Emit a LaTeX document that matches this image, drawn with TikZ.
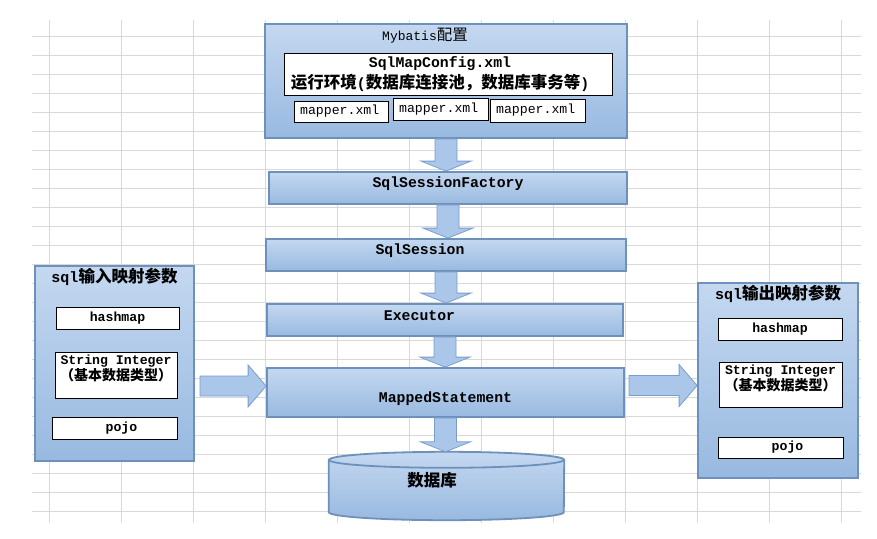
\documentclass[tikz,border=0pt]{standalone}
\usepackage{fontspec}
\setmainfont{Liberation Mono}
\newfontfamily\cjk{Noto Sans CJK SC}
\usepackage{tikz}
\usetikzlibrary{positioning, calc}

\definecolor{boxtop}{RGB}{196,216,240}
\definecolor{boxbot}{RGB}{152,185,224}
\definecolor{boxedge}{RGB}{110,145,188}
\definecolor{arrfill}{RGB}{170,198,232}
\definecolor{arredge}{RGB}{122,158,204}
\definecolor{gridgray}{RGB}{217,217,217}

\newcommand{\zh}[2]{{\cjk\fontsize{#1}{#1}\selectfont #2}}
% fat arrow pointing down, from #1 to #2
\newcommand{\vblock}[2]{%
  \path[arw] let \p1=(#1), \p2=(#2) in
    (\x1-11pt,\y1) -- (\x1+11pt,\y1) -- (\x1+11pt,\y2+10pt) -- (\x1+25pt,\y2+10pt)
    -- (\x1,\y2) -- (\x1-25pt,\y2+10pt) -- (\x1-11pt,\y2+10pt) -- cycle;}
% fat arrow pointing right, from #1 to #2
\newcommand{\hblock}[2]{%
  \path[arw] let \p1=(#1), \p2=(#2) in
    (\x1,\y1+10pt) -- (\x2-18pt,\y1+10pt) -- (\x2-18pt,\y1+21pt) -- (\x2,\y1)
    -- (\x2-18pt,\y1-21pt) -- (\x2-18pt,\y1-10pt) -- (\x1,\y1-10pt) -- cycle;}

\begin{document}
\begin{tikzpicture}[x=1pt, y=-1pt,
    gridline/.style={draw=gridgray, line width=0.9pt},
    blk/.style={draw=boxedge, line width=1.8pt, top color=boxtop,
        bottom color=boxbot, inner sep=0pt},
    wbox/.style={draw=black, line width=0.9pt, fill=white, inner sep=0pt},
    arw/.style={draw=arredge, line width=0.8pt, fill=arrfill},
    lblbig/.style={font=\fontsize{14.8}{21}\selectfont\bfseries},
    lblsmall/.style={font=\fontsize{13.2}{16}\selectfont\bfseries},
  ]
  \useasboundingbox (0,0) rectangle (877,538);
  \fill[white] (0,0) rectangle (877,538);

  % spreadsheet grid
  \foreach \gx in {0,...,11}
    \draw[gridline] ({49+72*\gx},20) -- ({49+72*\gx},523);
  \foreach \gy in {0,...,25}
    \draw[gridline] (32,{36+19*\gy}) -- (861,{36+19*\gy});

  % Mybatis config
  \node[blk, minimum width=362, minimum height=114,
    label={[font=\fontsize{13}{14}\selectfont, anchor=center, xshift=-21pt, yshift=-13pt]north:Mybatis\zh{15.5}{配置}}]
    (cfg) at (446,81) {};
  \node[wbox, minimum width=328, minimum height=42,
    label={[lblbig, align=center, xshift=-8pt]center:SqlMapConfig.xml\\\zh{16.5}{运行环境}(\zh{16.5}{数据库连接池，数据库事务等})}]
    (smc) at (448,74) {};
  \foreach \i/\cx/\cy/\w/\h in {1/341/111.5/94/21, 2/440.5/109/95/22, 3/537.5/110.5/95/23}
    \node[wbox, minimum width=\w, minimum height=\h,
      label={[font=\fontsize{13.2}{15}\selectfont, anchor=west, xshift=3pt]west:mapper.xml}]
      (map\i) at (\cx,\cy) {};

  % main chain
  \node[blk, minimum width=358, minimum height=32,
    label={[lblbig, yshift=4pt]center:SqlSessionFactory}] (fac) at (448,188) {};
  \node[blk, minimum width=360, minimum height=32,
    label={[lblbig, xshift=-26pt, yshift=4pt]center:SqlSession}] (ses) at (446,255) {};
  \node[blk, minimum width=356, minimum height=32,
    label={[lblbig, xshift=-25.5pt, yshift=4pt]center:Executor}] (exe) at (445,320) {};
  \node[blk, minimum width=357, minimum height=49,
    label={[lblbig, yshift=-6.5pt]center:MappedStatement}] (ms) at (445.5,392.5) {};

  % database
  \node[minimum width=235, minimum height=68, inner sep=0pt] (db) at (446.5,486) {};
  \draw[blk] ([yshift=-8pt]db.north west) -- ([yshift=8pt]db.south west)
    arc[start angle=180, end angle=360, x radius=117.5pt, y radius=8pt]
    -- ([yshift=-8pt]db.north east)
    arc[start angle=0, end angle=180, x radius=117.5pt, y radius=8pt] -- cycle;
  \draw[draw=boxedge, line width=1.8pt] ([yshift=-8pt]db.north west)
    arc[start angle=180, end angle=360, x radius=117.5pt, y radius=8pt];
  \node[font=\bfseries] (dbtxt) at ([xshift=-14.5pt, yshift=6pt]db.center) {\zh{16.5}{数据库}};

  % sql input parameters
  \node[blk, minimum width=159, minimum height=195,
    label={[lblbig, anchor=center, yshift=-12pt]north:{\fontsize{15}{16}\selectfont sql}\zh{16.5}{输入映射参数}}]
    (inL) at (114.5,363.5) {};
  \node[wbox, minimum width=123, minimum height=22, lblsmall] (hmL) at (117.5,318) {hashmap};
  \node[wbox, minimum width=122, minimum height=46,
    label={[lblsmall, align=center, anchor=north, inner sep=0pt, yshift=-3pt]north:String Integer\\\zh{14}{（基本数据类型）}}]
    (strL) at (116,375) {};
  \node[wbox, minimum width=125, minimum height=22,
    label={[lblsmall, xshift=7pt]center:pojo}] (pojoL) at (114.5,428) {};

  % sql output parameters
  \node[blk, minimum width=160, minimum height=195,
    label={[lblbig, anchor=center, yshift=-12pt]north:{\fontsize{15}{16}\selectfont sql}\zh{16.5}{输出映射参数}}]
    (outR) at (778,380.5) {};
  \node[wbox, minimum width=124, minimum height=22, lblsmall] (hmR) at (780,329) {hashmap};
  \node[wbox, minimum width=123, minimum height=45,
    label={[lblsmall, align=center, anchor=north, inner sep=0pt, yshift=-3pt]north:String Integer\\\zh{14}{（基本数据类型）}}]
    (strR) at (780.5,384.5) {};
  \node[wbox, minimum width=125, minimum height=21,
    label={[lblsmall, xshift=7pt]center:pojo}] (pojoR) at (780.5,447.5) {};

  % arrows
  \vblock{cfg.south}{fac.north}
  \vblock{fac.south}{ses.north}
  \vblock{ses.south}{exe.north}
  \vblock{exe.south}{ms.north}
  \vblock{ms.south}{db.north}
  \coordinate (inArr) at (200,386);
  \coordinate (outArr) at (629,385.5);
  \hblock{inArr}{ms.west |- inArr}
  \hblock{outArr}{outR.west |- outArr}
\end{tikzpicture}
\end{document}
